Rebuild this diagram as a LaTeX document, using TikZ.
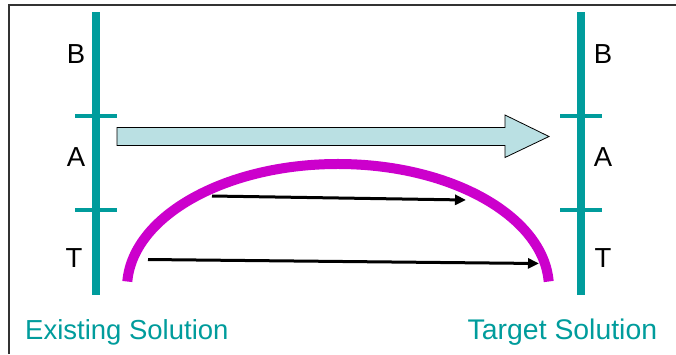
\documentclass[tikz,border=0pt]{standalone}
\usepackage{fontspec}
\setmainfont{Liberation Sans}
\usetikzlibrary{arrows.meta}
\definecolor{teal1}{HTML}{009C9C}
\definecolor{mag}{HTML}{CC00CC}
\definecolor{lblue}{HTML}{BAE0E3}
\begin{document}
\begin{tikzpicture}[x=1pt,y=-1pt,
  bar/.style={draw=teal1,line width=8pt},
  tickline/.style={draw=teal1,line width=4pt},
  lbl/.style={inner sep=0pt,font=\fontsize{27.5}{30}\selectfont},
  captext/.style={inner sep=0pt,anchor=base west,text=teal1,font=\fontsize{27.5}{30}\selectfont},
  blk/.style={draw=black,line width=3pt,-{Triangle[length=11pt,width=10pt]}}]
\useasboundingbox (0,0) rectangle (676,354);
\draw[black!80,line width=1.2pt] (9,354) -- (9,5) -- (676,5);
% bars
\coordinate (lt) at (96,12); \coordinate (lb) at (96,295);
\coordinate (rt) at (581,12); \coordinate (rb) at (581,295);
\draw[bar] (lt) -- (lb);
\draw[bar] (rt) -- (rb);
\foreach \y in {116,210}{
  \draw[tickline] (75,\y) -- (117,\y);
  \draw[tickline] (560,\y) -- (602,\y);
}
% labels
\node[lbl] (lB) at (76,54) {B};
\node[lbl] (lA) at (76,157) {A};
\node[lbl] (lT) at (74,258) {T};
\node[lbl] (rB) at (603,54) {B};
\node[lbl] (rA) at (603,157) {A};
\node[lbl] (rT) at (603,258) {T};
% big arrow
\draw[fill=lblue,draw=black,line width=0.8pt]
  (117,127.5) -- (505,127.5) -- (505,115) -- (549,136.5) -- (505,157.5) -- (505,145.5) -- (117,145.5) -- cycle;
% magenta arc
\draw[mag,line width=10pt] (127.3,281.5) arc[start angle=177,end angle=3,x radius=211,y radius=-124];
% black arrows
\coordinate (a1s) at (212,196); \coordinate (a1e) at (466,200);
\coordinate (a2s) at (148,259.5); \coordinate (a2e) at (539,263.5);
\draw[blk] (a1s) -- (a1e);
\draw[blk] (a2s) -- (a2e);
% captions
\node[captext] (ex) at (25,339.5) {Existing Solution};
\node[captext,font=\fontsize{28.4}{30}\selectfont] (ta) at (467.5,339.5) {Target Solution};
\end{tikzpicture}
\end{document}
